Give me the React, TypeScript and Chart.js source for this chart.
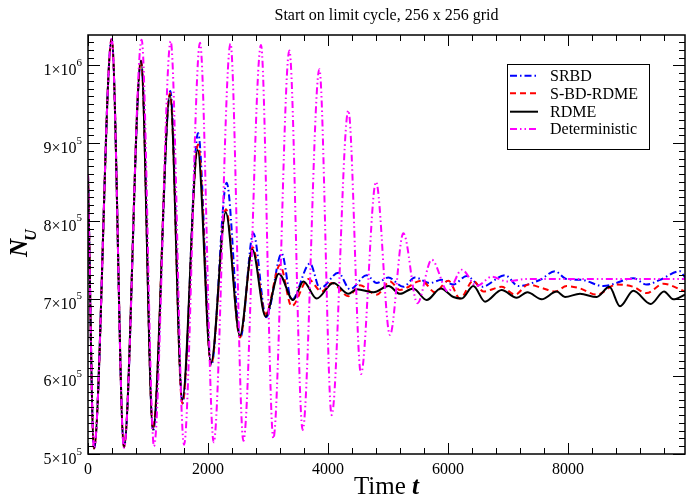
import React, { useEffect, useRef } from "react";
import { Chart, registerables } from "chart.js";

Chart.register(...registerables);

const FONT = '"Liberation Serif", "Times New Roman", serif';

const titleText = "Start on limit cycle, 256 x 256 grid";

// x tick labels and y tick labels (mantissa, exponent)
const xTickValues = [0, 2000, 4000, 6000, 8000];
const yTickValues = [500000, 600000, 700000, 800000, 900000, 1000000];
const yTickMantissa = ["5", "6", "7", "8", "9", "1"];
const yTickExponent = ["5", "5", "5", "5", "5", "6"];

// SRBD (blue, dash-dot)
const srbdT = [0, 100, 395, 600, 885, 1085, 1372, 1575, 1835, 2055, 2310, 2540, 2755, 2970, 3228, 3394, 3700, 3867, 4172, 4367, 4644, 4811, 5006, 5256, 5450, 5700, 5894, 6089, 6311, 6561, 6950, 7172, 7533, 7783, 7978, 8228, 8589, 9089, 9311, 9533, 9867, 9950];
const srbdN = [860000, 507000, 1034000, 509000, 1006000, 530000, 967000, 565000, 913000, 614000, 849000, 650000, 784000, 676000, 758000, 698000, 745000, 713000, 733000, 712000, 730000, 720000, 727000, 715000, 727000, 720000, 724000, 718000, 729000, 715000, 730000, 716000, 724000, 735000, 725000, 724000, 716000, 726000, 718000, 724000, 735000, 727000];

// S-BD-RDME (red, dashed)
const sbdT = [0, 100, 395, 600, 883, 1083, 1367, 1572, 1835, 2050, 2300, 2533, 2745, 2960, 3200, 3394, 3672, 3894, 4061, 4339, 4533, 4811, 5033, 5200, 5561, 5783, 6006, 6200, 6422, 6589, 6894, 7117, 7339, 7589, 7783, 7978, 8200, 8478, 8811, 9089, 9311, 9589, 9950];
const sbdN = [860000, 507000, 1034000, 509000, 1006000, 533000, 964000, 565000, 898000, 614000, 815000, 650000, 766000, 680000, 743000, 690000, 725000, 709000, 720000, 703000, 717000, 705000, 722000, 711000, 723000, 708000, 723000, 700000, 723000, 709000, 715000, 705000, 718000, 713000, 709000, 716000, 713000, 705000, 718000, 715000, 707000, 719000, 709000];

// RDME (black, solid)
const rdmeT = [0, 100, 395, 600, 883, 1083, 1367, 1572, 1828, 2050, 2295, 2533, 2739, 2960, 3180, 3420, 3590, 3810, 4090, 4340, 4480, 4760, 5010, 5200, 5420, 5644, 5880, 6089, 6228, 6422, 6617, 6894, 7144, 7322, 7561, 7811, 7950, 8200, 8478, 8689, 8867, 9089, 9378, 9600, 9756, 9950];
const rdmeN = [860000, 507000, 1034000, 509000, 1006000, 531000, 962000, 570000, 891000, 617000, 811000, 652000, 763000, 677000, 732000, 698000, 722000, 700000, 720000, 706000, 712000, 708000, 716000, 706000, 713000, 698000, 713000, 702000, 700000, 716000, 696000, 711000, 701000, 708000, 699000, 709000, 702000, 706000, 702000, 715000, 690000, 710000, 693000, 709000, 699000, 705000];

// Deterministic (magenta, dash-dot-dot)
const detT = [0, 100, 395, 600, 894, 1100, 1378, 1600, 1867, 2095, 2375, 2590, 2883, 3089, 3356, 3578, 3856, 4061, 4339, 4550, 4800, 5033, 5256, 5490, 5728, 6000, 6230, 6480, 6730, 6980, 7300, 9950];
const detN = [860000, 507000, 1034000, 508000, 1033000, 510000, 1031000, 512000, 1029000, 515000, 1028000, 517000, 1026000, 520000, 1019000, 531000, 995000, 550000, 942000, 603000, 850000, 653000, 784000, 694000, 750000, 709000, 737000, 716000, 728000, 722000, 725000, 725000];

const seriesNames = ["SRBD", "S-BD-RDME", "RDME", "Deterministic"];
const seriesColors = ["#0000ff", "#ff0000", "#000000", "#ff00ff"];
const seriesDashes = [[7, 3, 1.5, 3], [6, 4], [], [7, 3, 1.5, 3, 1.5, 3]];

function pts(t: number[], n: number[]) {
  return t.map((v, i) => ({ x: v, y: n[i] }));
}

const decorPlugin = {
  id: "decor",
  afterDraw(chart: any) {
    const { ctx, chartArea: a, scales } = chart;
    const xs = scales.x;
    const ys = scales.y;
    ctx.save();
    ctx.setLineDash([]);
    ctx.strokeStyle = "#000";
    // ticks
    ctx.lineWidth = 1;
    const seg = (x1: number, y1: number, x2: number, y2: number) => {
      ctx.beginPath();
      ctx.moveTo(x1, y1);
      ctx.lineTo(x2, y2);
      ctx.stroke();
    };
    for (let t = 0; t <= xs.max; t += 400) {
      const px = Math.round(xs.getPixelForValue(t)) + 0.5;
      const len = t % 2000 === 0 ? 11 : 6;
      seg(px, a.bottom, px, a.bottom - len);
      seg(px, a.top, px, a.top + len);
    }
    for (let v = 500000; v <= ys.max; v += 10000) {
      const py = Math.round(ys.getPixelForValue(v)) + 0.5;
      const len = v % 100000 === 0 ? 12 : 6;
      seg(a.left, py, a.left + len, py);
      seg(a.right, py, a.right - len, py);
    }
    // frame
    ctx.lineWidth = 1.5;
    ctx.strokeRect(a.left, a.top, a.right - a.left, a.bottom - a.top);

    ctx.fillStyle = "#000";
    // x tick labels
    ctx.font = `16px ${FONT}`;
    ctx.textAlign = "center";
    ctx.textBaseline = "alphabetic";
    xTickValues.forEach((v) => {
      ctx.fillText(String(v), xs.getPixelForValue(v), a.bottom + 19.5);
    });
    // y tick labels
    yTickValues.forEach((v, i) => {
      const py = ys.getPixelForValue(v);
      ctx.font = `11px ${FONT}`;
      ctx.textAlign = "right";
      const expW = ctx.measureText(yTickExponent[i]).width;
      ctx.fillText(yTickExponent[i], 82, py + 0.5);
      ctx.font = `16px ${FONT}`;
      ctx.fillText(yTickMantissa[i] + "\u00d710", 82 - expW, py + 10);
    });
    // title
    ctx.font = `16px ${FONT}`;
    ctx.textAlign = "center";
    const cx = (a.left + a.right) / 2;
    ctx.fillText(titleText, cx, 19.5);
    // x axis title: "Time t"
    ctx.textAlign = "left";
    ctx.font = `25px ${FONT}`;
    const w1 = ctx.measureText("Time ").width;
    ctx.font = `bold italic 25px ${FONT}`;
    const w2 = ctx.measureText("t").width;
    const sx = cx - (w1 + w2) / 2;
    ctx.font = `25px ${FONT}`;
    ctx.fillText("Time ", sx, 494);
    ctx.font = `bold italic 25px ${FONT}`;
    ctx.fillText("t", sx + w1, 494);
    // y axis title: N_U
    ctx.save();
    ctx.translate(27, 257);
    ctx.rotate(-Math.PI / 2);
    ctx.font = `bold italic 25px ${FONT}`;
    const wN = ctx.measureText("N").width;
    ctx.fillText("N", 0, 0);
    ctx.font = `bold italic 16px ${FONT}`;
    ctx.fillText("U", wN - 2, 9);
    ctx.restore();
    // legend
    ctx.lineWidth = 1;
    ctx.strokeRect(507.5, 64.5, 142, 85);
    const rows = [75.7, 93.3, 111.7, 129];
    ctx.font = `16px ${FONT}`;
    ctx.textBaseline = "middle";
    ctx.textAlign = "left";
    seriesNames.forEach((name, i) => {
      const y = rows[i];
      ctx.save();
      ctx.strokeStyle = seriesColors[i];
      ctx.lineWidth = 2;
      ctx.setLineDash(seriesDashes[i]);
      ctx.beginPath();
      ctx.moveTo(510, y);
      ctx.lineTo(538, y);
      ctx.stroke();
      ctx.restore();
      ctx.fillStyle = "#000";
      ctx.fillText(name, 550, y + 1);
    });
    ctx.restore();
  },
};

export default function App() {
  const ref = useRef<HTMLCanvasElement | null>(null);
  useEffect(() => {
    if (!ref.current) return;
    const data = [pts(srbdT, srbdN), pts(sbdT, sbdN), pts(rdmeT, rdmeN), pts(detT, detN)];
    const orders = [3, 2, 1, 0];
    const chart = new Chart(ref.current, {
      type: "line",
      data: {
        datasets: seriesNames.map((name, i) => ({
          label: name,
          data: data[i],
          borderColor: seriesColors[i],
          borderWidth: 2,
          borderDash: seriesDashes[i],
          pointRadius: 0,
          fill: false,
          cubicInterpolationMode: "monotone" as const,
          order: orders[i],
        })),
      },
      options: {
        responsive: false,
        maintainAspectRatio: false,
        animation: false,
        layout: { padding: { left: 88, top: 35, right: 1, bottom: 42 } },
        scales: {
          x: { type: "linear", min: 0, max: 9950, display: false },
          y: { type: "linear", min: 500000, max: 1039000, display: false },
        },
        plugins: {
          legend: { display: false },
          title: { display: false },
          tooltip: { enabled: false },
        },
      },
      plugins: [decorPlugin],
    });
    return () => chart.destroy();
  }, []);
  return (
    <canvas
      ref={ref}
      width={686}
      height={496}
      style={{ position: "fixed", left: 0, top: 0, background: "#fff" }}
    />
  );
}
